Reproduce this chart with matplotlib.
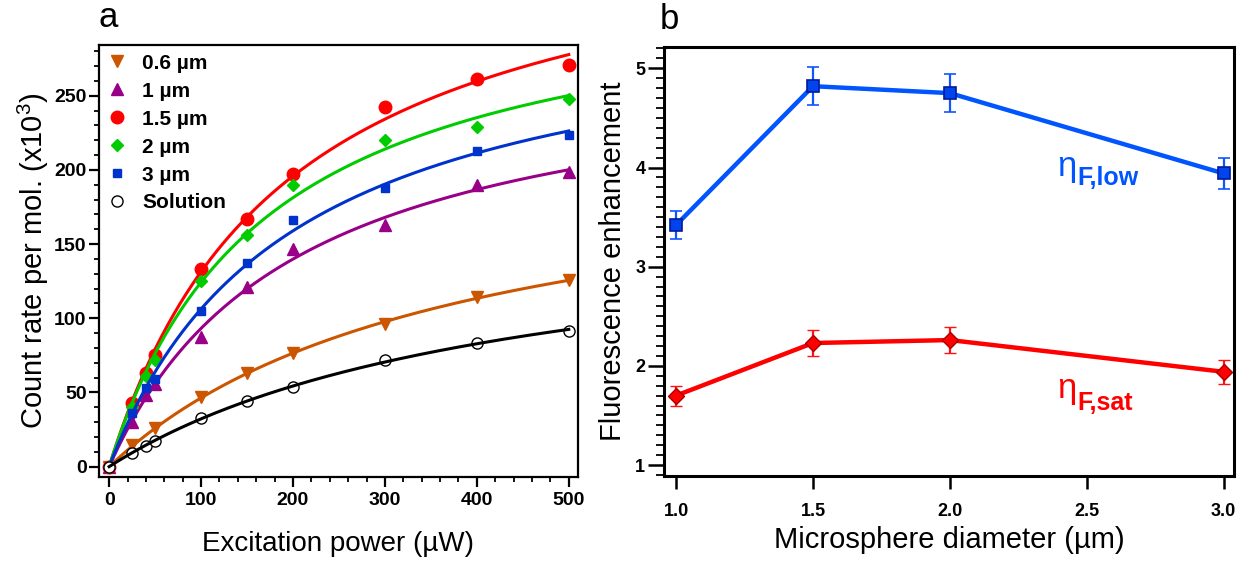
import numpy as np
import matplotlib
matplotlib.use('Agg')
import matplotlib.pyplot as plt
from matplotlib.ticker import MultipleLocator

plt.rcParams['font.family'] = ['Liberation Sans', 'DejaVu Sans']
plt.rcParams['mathtext.fontset'] = 'custom'
plt.rcParams['mathtext.rm'] = 'Liberation Sans'
plt.rcParams['mathtext.it'] = 'Liberation Sans'
plt.rcParams['mathtext.bf'] = 'Liberation Sans:bold'

# panel a: count rate vs excitation power
power = [0, 25, 40, 50, 100, 150, 200, 300, 400, 500]
power_06 = [0, 25, 50, 100, 150, 200, 300, 400, 500]
rate_06 = [0, 14.5, 26.3, 46.9, 62.8, 76.3, 96.0, 114.5, 125.7]
rate_1 = [0, 30, 48, 56, 87.5, 121, 146.8, 163, 189.6, 198.4]
rate_15 = [0, 42.6, 63.3, 75, 132.9, 167.2, 197, 242.4, 261.2, 270.4]
rate_2 = [0, 40, 61, 71.6, 125, 156, 189.6, 220, 229, 247.8]
rate_3 = [0, 36, 53, 59, 104.8, 137, 166, 187.6, 213, 223.7]
rate_sol = [0, 9, 13.9, 17, 32.5, 44.2, 54, 71.6, 83.3, 91.6]

# panel b: enhancement vs microsphere diameter
diam = [1.0, 1.5, 2.0, 3.0]
eta_low = [3.42, 4.82, 4.75, 3.94]
eta_low_err = [0.14, 0.19, 0.19, 0.16]
eta_sat = [1.70, 2.23, 2.26, 1.94]
eta_sat_err = [0.10, 0.13, 0.135, 0.12]


def sat_fit(x, y):
    # least squares fit of y = A*x/(x+B)
    x = np.asarray(x, float)
    y = np.asarray(y, float)
    best = None
    for B in np.linspace(20, 1500, 3000):
        f = x / (x + B)
        A = f.dot(y) / f.dot(f)
        r = np.sum((y - A * f) ** 2)
        if best is None or r < best[0]:
            best = (r, A, B)
    return best[1], best[2]


fig = plt.figure(figsize=(12.44, 5.63), dpi=100)
ax1 = fig.add_axes([0.0796, 0.1527, 0.385, 0.767])
ax2 = fig.add_axes([0.5338, 0.1545, 0.4582, 0.762])

series = [
    ('0.6 µm', power_06, rate_06, 'v', '#CC5500', 9, 'full'),
    ('1 µm', power, rate_1, '^', '#990088', 9, 'full'),
    ('1.5 µm', power, rate_15, 'o', '#FF0000', 9, 'full'),
    ('2 µm', power, rate_2, 'D', '#00CC00', 6.5, 'full'),
    ('3 µm', power, rate_3, 's', '#0033CC', 6, 'full'),
    ('Solution', power, rate_sol, 'o', 'black', 8, 'none'),
]
xs = np.linspace(0, 500, 300)
for label, x, y, m, c, ms, fill in series:
    if fill == 'none':
        ax1.plot(x, y, ls='none', marker=m, ms=ms, mfc='white', mec=c, mew=1.0, label=label)
    else:
        ax1.plot(x, y, ls='none', marker=m, ms=ms, color=c, mec=c, label=label)
    A, B = sat_fit(x, y)
    ax1.plot(xs, A * xs / (xs + B), color=c, lw=2.2)

ax1.set_xlim(-11, 510)
ax1.set_ylim(-7, 284)
ax1.xaxis.set_major_locator(MultipleLocator(100))
ax1.xaxis.set_minor_locator(MultipleLocator(20))
ax1.yaxis.set_major_locator(MultipleLocator(50))
ax1.yaxis.set_minor_locator(MultipleLocator(10))
ax1.tick_params(which='major', direction='out', length=7.5, width=1.6, labelsize=14)
ax1.tick_params(axis='y', which='major', pad=1.5)
ax1.tick_params(axis='x', which='major', pad=3)
ax1.tick_params(which='minor', direction='out', length=3.5, width=1.3)
ax1.set_xlabel('Excitation power (µW)', fontsize=20, labelpad=16)
ax1.set_ylabel('Count rate per mol. (x10$^{3}$)', fontsize=21, labelpad=2)
leg = ax1.legend(loc='upper left', bbox_to_anchor=(0.008, 0.99), frameon=False, handlelength=1.0,
                 handletextpad=0.7, labelspacing=0.43, borderaxespad=0.0,
                 borderpad=0.2, prop={'weight': 'bold', 'size': 15})
ax1.text(0.02, 1.025, 'a', transform=ax1.transAxes, fontsize=25, ha='center', va='bottom')

# panel b
ax2.errorbar(diam, eta_low, yerr=eta_low_err, color='#0055FF', lw=3.2, marker='s', ms=8,
             mfc='#0044EE', mec='#001A99', mew=1.2, ecolor='#1155FF', elinewidth=1.6,
             capsize=4.5, capthick=1.6)
ax2.errorbar(diam, eta_sat, yerr=eta_sat_err, color='#FF0000', lw=3.2, marker='D', ms=8.5,
             mfc='#FF0000', mec='#AA0000', mew=1.0, ecolor='#FF1111', elinewidth=1.6,
             capsize=4.5, capthick=1.6)
ax2.set_xlim(0.956, 3.038)
ax2.set_ylim(0.889, 5.215)
ax2.xaxis.set_major_locator(MultipleLocator(0.5))
ax2.yaxis.set_major_locator(MultipleLocator(1))
ax2.yaxis.set_minor_locator(MultipleLocator(0.1))
ax2.xaxis.set_major_formatter(plt.FormatStrFormatter('%.1f'))
ax2.tick_params(axis='x', which='major', direction='out', length=9.5, width=1.8, labelsize=13, pad=10)
ax2.tick_params(axis='y', which='major', direction='out', length=11.5, width=1.8, labelsize=13, pad=2)
ax2.tick_params(axis='y', which='minor', direction='out', length=5.5, width=1.3)
ax2.set_xlabel('Microsphere diameter (µm)', fontsize=21, labelpad=4)
ax2.set_ylabel('Fluorescence enhancement', fontsize=21, labelpad=6)
ax2.text(0.01, 1.025, 'b', transform=ax2.transAxes, fontsize=25, ha='center', va='bottom')

ax2.text(2.392, 3.914, 'η', color='#0055FF', fontsize=25, ha='left', va='baseline')
ax2.text(2.466, 3.82, 'F,low', color='#0055FF', fontsize=18, fontweight='bold', ha='left', va='baseline')
ax2.text(2.392, 1.676, 'η', color='#FF0000', fontsize=25, ha='left', va='baseline')
ax2.text(2.466, 1.556, 'F,sat', color='#FF0000', fontsize=18, fontweight='bold', ha='left', va='baseline')

for ax, lw in ((ax1, 1.6), (ax2, 2.2)):
    for sp in ax.spines.values():
        sp.set_linewidth(lw)
    for lab in ax.get_xticklabels() + ax.get_yticklabels():
        lab.set_fontweight('bold')

fig.savefig('out.png', dpi=100)
